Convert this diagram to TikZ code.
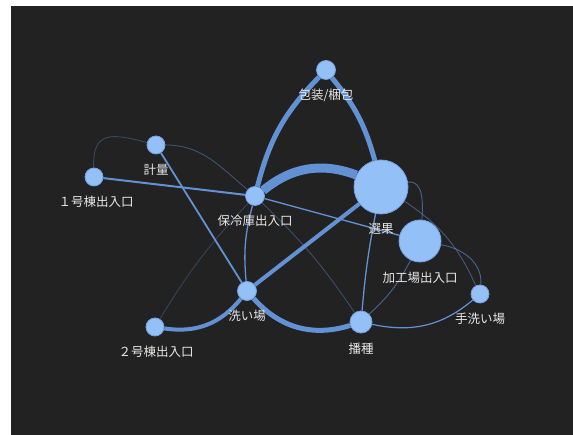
\documentclass[tikz,border=0pt]{standalone}
\usepackage{fontspec}
\setmainfont{Noto Sans CJK JP}
\definecolor{bgc}{HTML}{222222}
\definecolor{edgec}{HTML}{6392D4}
\definecolor{nodec}{HTML}{94C0F8}
\definecolor{noded}{HTML}{74A2E2}
\definecolor{labc}{HTML}{E8E8E8}
\pgfdeclarelayer{back}
\pgfdeclarelayer{edges}
\pgfsetlayers{back,edges,main}
\tikzset{
  vtx/.style={circle,fill=nodec,draw=noded,line width=0.8pt,inner sep=0pt},
  lab/.style={text=labc,font=\fontsize{12.5}{14}\selectfont,inner sep=0pt},
  ew/.style={draw=edgec,line width=#1},
  faint/.style={draw=edgec,draw opacity=#1,line width=0.9pt},
}
\begin{document}
\begin{tikzpicture}[x=1pt,y=1pt]
\begin{pgfonlayer}{back}
\fill[white] (0,0) rectangle (573,435);
\fill[bgc] (11,0) rectangle (573,429);
\end{pgfonlayer}
\useasboundingbox (0,0) rectangle (573,435);

\node[vtx,minimum size=19pt,label={[lab,label distance=9pt]below:{包装/梱包}}] (pack) at (326,365) {};
\node[vtx,minimum size=18pt,label={[lab,label distance=9pt]below:{計量}}] (keiryo) at (156,290) {};
\node[vtx,minimum size=18pt,label={[lab,label distance=9pt,xshift=2pt]below:{１号棟出入口}}] (b1) at (94,258) {};
\node[vtx,minimum size=19pt,label={[lab,label distance=9pt]below:{保冷庫出入口}}] (cold) at (255,239) {};
\node[vtx,minimum size=54pt,label={[lab,label distance=9pt]below:{選果}}] (sen) at (381,248) {};
\node[vtx,minimum size=42pt,label={[lab,label distance=9pt]below:{加工場出入口}}] (kako) at (420,194) {};
\node[vtx,minimum size=18pt,label={[lab,label distance=9pt]below:{手洗い場}}] (tearai) at (480,141) {};
\node[vtx,minimum size=19pt,label={[lab,label distance=9pt]below:{洗い場}}] (arai) at (247,144) {};
\node[vtx,minimum size=18pt,label={[lab,label distance=9pt,xshift=1pt]below:{２号棟出入口}}] (b2) at (155,108) {};
\node[vtx,minimum size=22pt,label={[lab,label distance=9pt]below:{播種}}] (hashu) at (361,113) {};

\begin{pgfonlayer}{edges}
\draw[ew=5pt] (cold) to[bend left=15] (pack);
\draw[ew=5pt] (pack) to[bend left=12] (sen);
\draw[ew=9pt] (cold) to[bend left=30] (sen);
\draw[ew=2pt] (b1) -- (cold);
\draw[faint=0.35] (b1) to[out=92,in=165,looseness=1.6] (keiryo);
\draw[faint=0.45] (keiryo) to[out=0,in=140] (cold);
\draw[ew=1.8pt] (keiryo) -- (arai);
\draw[ew=1.3pt] (cold) to[bend right=10] (arai);
\draw[faint=0.3] (cold) to[bend right=6] (b2);
\draw[faint=0.4] (cold) to[bend left=6] (hashu);
\draw[ew=1.3pt] (cold) -- (kako);
\draw[ew=4pt] (sen) -- (arai);
\draw[ew=4pt] (arai) to[bend left=30] (b2);
\draw[ew=5pt] (arai) to[bend right=33] (hashu);
\draw[ew=1.3pt] (sen) to[bend right=3] (hashu);
\draw[faint=0.6] (sen) to[out=10,in=85] (kako);
\draw[faint=0.5] (sen) to[bend left=16] (tearai);
\draw[faint=0.6] (kako) to[out=-10,in=85] (tearai);
\draw[faint=0.6] (kako) to[bend left=10] (hashu);
\draw[ew=1.2pt] (hashu) to[out=-12,in=220] (tearai);
\end{pgfonlayer}
\end{tikzpicture}
\end{document}
